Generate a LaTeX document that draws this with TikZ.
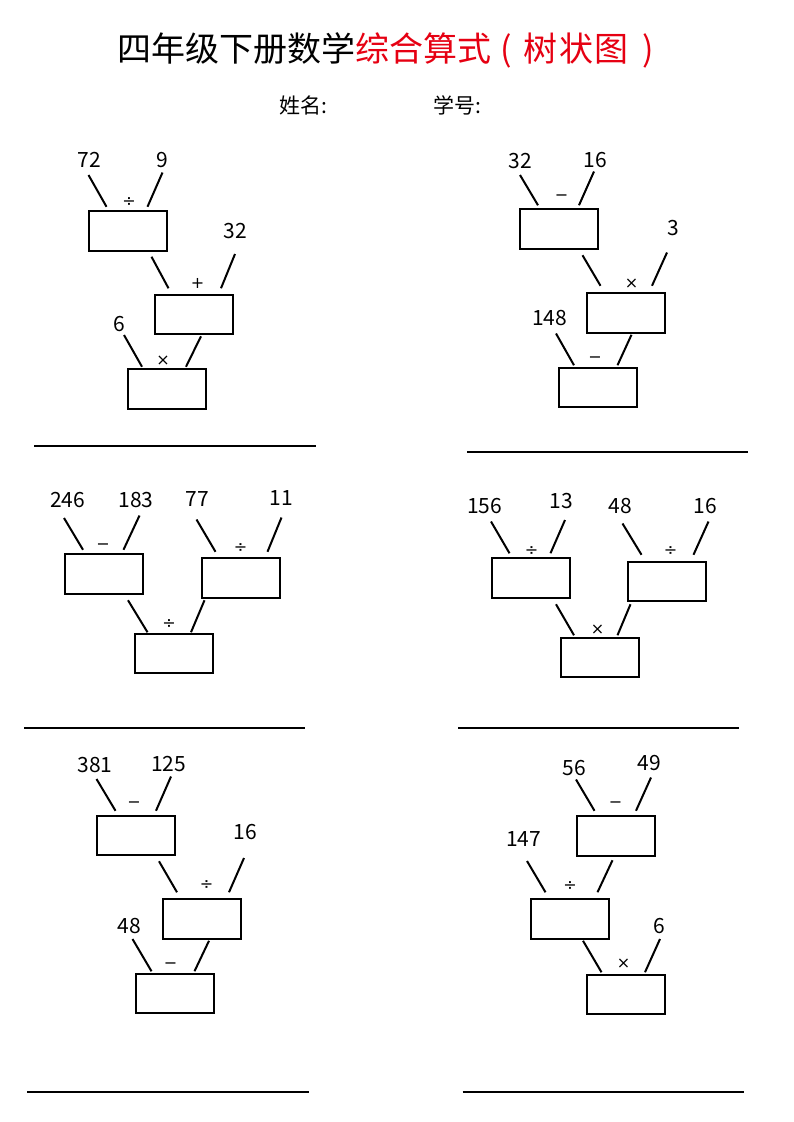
\documentclass[tikz,border=0pt]{standalone}
\usepackage{fontspec}
\setmainfont{Noto Sans CJK SC}
\newfontfamily\opfont{DejaVu Sans}
\usepackage{tikz}
\usetikzlibrary{calc}
\definecolor{titlered}{RGB}{230,0,18}

\begin{document}
\begin{tikzpicture}[x=1pt,y=-1pt,
		ansbox/.style={rectangle,draw=black,line width=2pt,inner sep=0pt,minimum width=78pt,minimum height=39.5pt},
		numtext/.style={inner sep=0pt,font=\fontsize{21}{24}\selectfont},
		opsign/.style={inner sep=0pt,font=\opfont\fontsize{16}{18}\selectfont},
		leg/.style={line width=2pt},
		answerline/.style={line width=2pt}]
		\path[use as bounding box,fill=white] (0,0) rectangle (793,1122);
		
		% heading
		\node[anchor=base west] (title) at (114,61) {\fontsize{34}{40}\selectfont 四年级下册数学\textcolor{titlered}{综合算式\hspace{9pt}(\hspace{11pt}树\hspace{2pt}状\hspace{2pt}图\hspace{13pt})}};
		\node[anchor=base west,font=\fontsize{21}{24}\selectfont] (name) at (276,113) {姓名:};
		\node[anchor=base west,font=\fontsize{21}{24}\selectfont] (number) at (430,113) {学号:};
		
		% tree 1
		\node[ansbox] (b1a) at (127.5,231) {};
		\node[ansbox] (b1b) at (194,314.5) {};
		\node[ansbox] (b1c) at (166.5,389) {};
		\node[numtext] (x1a) at (89.5,160) {72};
		\node[numtext] (x1b) at (162.5,160) {9};
		\node[numtext] (x1c) at (235,231.5) {32};
		\node[numtext] (x1d) at (119,324.5) {6};
		\node[opsign] (o1a) at ([xshift=1.5pt,yshift=8.5pt]b1a.north) {÷};
		\node[opsign] (o1b) at ([xshift=3.5pt,yshift=10.5pt]b1b.north) {+};
		\node[opsign] (o1c) at ([xshift=-3.5pt,yshift=8pt]b1c.north) {×};
		\draw[leg] ([xshift=-1pt,yshift=-15pt]x1a.center) -- ([xshift=19pt,yshift=3.5pt]b1a.north west);
		\draw[leg] ([yshift=-12.5pt]x1b.center) -- ([xshift=-20pt,yshift=3.5pt]b1a.north east);
		\draw[leg] ([xshift=-16pt,yshift=-5pt]b1a.south east) -- ([xshift=14.5pt,yshift=5.5pt]b1b.north west);
		\draw[leg] ([yshift=-22.5pt]x1c.center) -- ([xshift=-13pt,yshift=5.5pt]b1b.north east);
		\draw[leg] ([xshift=5pt,yshift=-10.5pt]x1d.center) -- ([xshift=15.5pt,yshift=1.5pt]b1c.north west);
		\draw[leg] ([xshift=7pt,yshift=-1pt]b1b.south) -- ([xshift=-20.5pt,yshift=1.5pt]b1c.north east);
		\draw[answerline] (34,446) -- (316,446);
		
		% tree 2
		\node[ansbox] (b2a) at (559,229) {};
		\node[ansbox] (b2b) at (625.5,313) {};
		\node[ansbox] (b2c) at (598,387.5) {};
		\node[numtext] (x2a) at (520,161.5) {32};
		\node[numtext] (x2b) at (595,160.5) {16};
		\node[numtext] (x2c) at (673.5,228.5) {3};
		\node[numtext] (x2d) at (549.5,318.5) {148};
		\node[opsign] (o2a) at ([xshift=2.5pt,yshift=10.5pt]b2a.north) {−};
		\node[opsign] (o2b) at ([xshift=6pt,yshift=9pt]b2b.north) {×};
		\node[opsign] (o2c) at ([xshift=-3pt,yshift=7.5pt]b2c.north) {−};
		\draw[leg] ([yshift=-13.5pt]x2a.center) -- ([xshift=19pt,yshift=3pt]b2a.north west);
		\draw[leg] ([xshift=-1pt,yshift=-11pt]x2b.center) -- ([xshift=-20pt,yshift=3pt]b2a.north east);
		\draw[leg] ([xshift=-16.5pt,yshift=-5.5pt]b2a.south east) -- ([xshift=15pt,yshift=6.5pt]b2b.north west);
		\draw[leg] ([xshift=-6.5pt,yshift=-24pt]x2c.center) -- ([xshift=-13.5pt,yshift=6.5pt]b2b.north east);
		\draw[leg] ([xshift=6.5pt,yshift=-15pt]x2d.center) -- ([xshift=16pt,yshift=1.5pt]b2c.north west);
		\draw[leg] ([xshift=6pt,yshift=-1pt]b2b.south) -- ([xshift=-20.5pt,yshift=1.5pt]b2c.north east);
		\draw[answerline] (467,451.5) -- (748,451.5);
		
		% tree 3
		\node[ansbox] (b3a) at (104,574) {};
		\node[ansbox] (b3b) at (240.5,578) {};
		\node[ansbox] (b3c) at (174,653.5) {};
		\node[numtext] (x3a) at (67.5,500.5) {246};
		\node[numtext] (x3b) at (136,500.5) {183};
		\node[numtext] (x3c) at (197.5,499.5) {77};
		\node[numtext] (x3d) at (281.5,498.5) {11};
		\node[opsign] (o3a) at ([xshift=-1pt,yshift=7pt]b3a.north) {−};
		\node[opsign] (o3b) at ([yshift=9pt]b3b.north) {÷};
		\node[opsign] (o3c) at ([xshift=-5pt,yshift=9pt]b3c.north) {÷};
		\draw[leg] ([xshift=-3.5pt,yshift=-17.5pt]x3a.center) -- ([xshift=19pt,yshift=3.5pt]b3a.north west);
		\draw[leg] ([xshift=3.5pt,yshift=-15pt]x3b.center) -- ([xshift=-20.5pt,yshift=3.5pt]b3a.north east);
		\draw[leg] ([xshift=-1pt,yshift=-20pt]x3c.center) -- ([xshift=15pt,yshift=5.5pt]b3b.north west);
		\draw[leg] ([yshift=-19pt]x3d.center) -- ([xshift=-13pt,yshift=5.5pt]b3b.north east);
		\draw[leg] ([xshift=24pt,yshift=-5.5pt]b3a.south) -- ([xshift=13.5pt,yshift=0.5pt]b3c.north west);
		\draw[leg] ([xshift=4pt,yshift=-1.5pt]b3b.south west) -- ([xshift=-23pt,yshift=0.5pt]b3c.north east);
		\draw[answerline] (24,727.5) -- (305,727.5);
		
		% tree 4
		\node[ansbox] (b4a) at (530.5,578) {};
		\node[ansbox] (b4b) at (667,581.5) {};
		\node[ansbox] (b4c) at (600,657.5) {};
		\node[numtext] (x4a) at (484.5,506) {156};
		\node[numtext] (x4b) at (561.5,501.5) {13};
		\node[numtext] (x4c) at (620.5,506) {48};
		\node[numtext] (x4d) at (705,506) {16};
		\node[opsign] (o4a) at ([xshift=1pt,yshift=6.5pt]b4a.north) {÷};
		\node[opsign] (o4b) at ([xshift=3.5pt,yshift=10pt]b4b.north) {÷};
		\node[opsign] (o4c) at ([xshift=-2.5pt,yshift=7pt]b4c.north) {×};
		\draw[leg] ([xshift=6.5pt,yshift=-15.5pt]x4a.center) -- ([xshift=19pt,yshift=4pt]b4a.north west);
		\draw[leg] ([xshift=3.5pt,yshift=-18.5pt]x4b.center) -- ([xshift=-20pt,yshift=4pt]b4a.north east);
		\draw[leg] ([xshift=2pt,yshift=-17.5pt]x4c.center) -- ([xshift=14.5pt,yshift=6pt]b4b.north west);
		\draw[leg] ([xshift=3.5pt,yshift=-15.5pt]x4d.center) -- ([xshift=-13.5pt,yshift=6pt]b4b.north east);
		\draw[leg] ([xshift=-14.5pt,yshift=-5.5pt]b4a.south east) -- ([xshift=14pt,yshift=1.5pt]b4c.north west);
		\draw[leg] ([xshift=3.5pt,yshift=-2pt]b4b.south west) -- ([xshift=-22.5pt,yshift=1.5pt]b4c.north east);
		\draw[answerline] (458,727.5) -- (739,727.5);
		
		% tree 5
		\node[ansbox] (b5a) at (136,835.5) {};
		\node[ansbox] (b5b) at (202,919) {};
		\node[ansbox] (b5c) at (175,993.5) {};
		\node[numtext] (x5a) at (95,765) {381};
		\node[numtext] (x5b) at (168.5,764) {125};
		\node[numtext] (x5c) at (245,832.5) {16};
		\node[numtext] (x5d) at (129.5,926.5) {48};
		\node[opsign] (o5a) at ([xshift=-2pt,yshift=10.5pt]b5a.north) {−};
		\node[opsign] (o5b) at ([xshift=4.5pt,yshift=13.5pt]b5b.north) {÷};
		\node[opsign] (o5c) at ([xshift=-4.5pt,yshift=7pt]b5c.north) {−};
		\draw[leg] ([xshift=1.5pt,yshift=-14pt]x5a.center) -- ([xshift=19.5pt,yshift=4pt]b5a.north west);
		\draw[leg] ([xshift=2.5pt,yshift=-12.5pt]x5b.center) -- ([xshift=-20pt,yshift=4pt]b5a.north east);
		\draw[leg] ([xshift=-17pt,yshift=-5pt]b5a.south east) -- ([xshift=15pt,yshift=6pt]b5b.north west);
		\draw[leg] ([xshift=-1pt,yshift=-25.5pt]x5c.center) -- ([xshift=-13pt,yshift=6pt]b5b.north east);
		\draw[leg] ([xshift=3pt,yshift=-12.5pt]x5d.center) -- ([xshift=16.5pt,yshift=1.5pt]b5c.north west);
		\draw[leg] ([xshift=7pt,yshift=-1pt]b5b.south) -- ([xshift=-20.5pt,yshift=1.5pt]b5c.north east);
		\draw[answerline] (27,1091.5) -- (309,1091.5);
		
		% tree 6
		\node[ansbox] (b6a) at (615.5,836) {};
		\node[ansbox] (b6b) at (570,919) {};
		\node[ansbox] (b6c) at (625.5,994.5) {};
		\node[numtext] (x6a) at (574,768.5) {56};
		\node[numtext] (x6b) at (649.5,763.5) {49};
		\node[numtext] (x6c) at (523.5,839.5) {147};
		\node[numtext] (x6d) at (659.5,926.5) {6};
		\node[opsign] (o6a) at ([yshift=11pt]b6a.north) {−};
		\node[opsign] (o6b) at ([yshift=12.5pt]b6b.north) {÷};
		\node[opsign] (o6c) at ([xshift=-2pt,yshift=10.5pt]b6c.north) {×};
		\draw[leg] ([xshift=2pt,yshift=-11pt]x6a.center) -- ([xshift=19pt,yshift=4.5pt]b6a.north west);
		\draw[leg] ([xshift=1.5pt,yshift=-14pt]x6b.center) -- ([xshift=-19.5pt,yshift=4.5pt]b6a.north east);
		\draw[leg] ([xshift=3.5pt,yshift=-21.5pt]x6c.center) -- ([xshift=15.5pt,yshift=6pt]b6b.north west);
		\draw[leg] ([xshift=-3pt,yshift=-3.5pt]b6a.south) -- ([xshift=-12.5pt,yshift=6pt]b6b.north east);
		\draw[leg] ([xshift=13pt,yshift=-1pt]b6b.south) -- ([xshift=16pt,yshift=1.5pt]b6c.north west);
		\draw[leg] ([xshift=0.5pt,yshift=-12.5pt]x6d.center) -- ([xshift=-20.5pt,yshift=1.5pt]b6c.north east);
		\draw[answerline] (462.5,1091.5) -- (744,1091.5);
\end{tikzpicture}
\end{document}
